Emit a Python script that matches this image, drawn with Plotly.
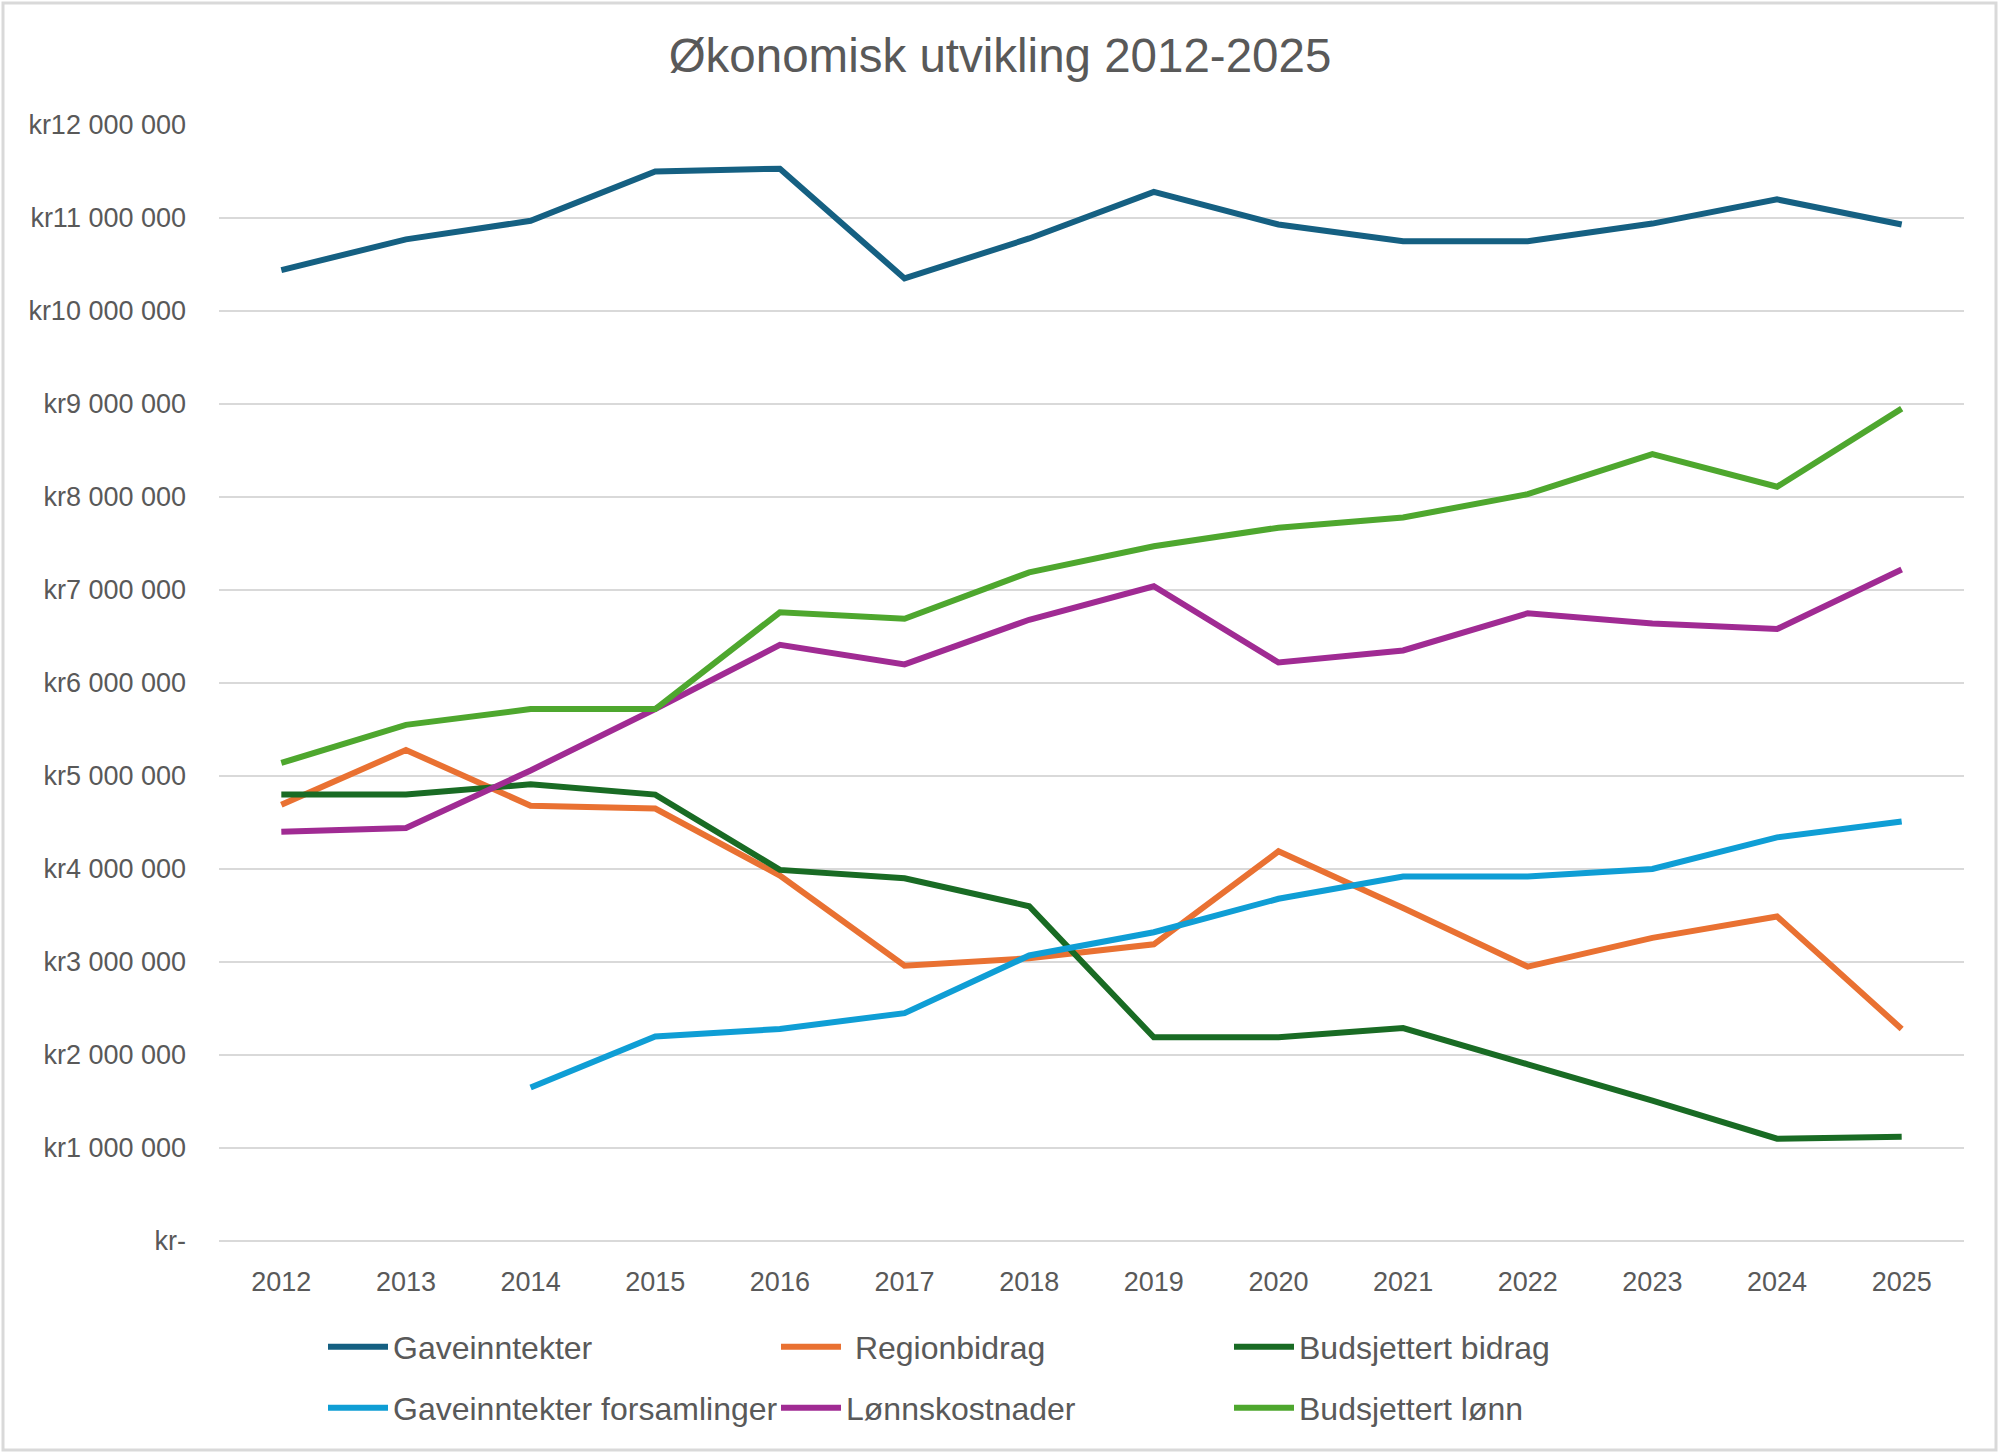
import plotly.graph_objects as go

YEARS = ["2012", "2013", "2014", "2015", "2016", "2017", "2018",
         "2019", "2020", "2021", "2022", "2023", "2024", "2025"]

GAVEINNTEKTER = [10.44e6, 10.77e6, 10.97e6, 11.50e6, 11.53e6, 10.35e6, 10.78e6,
                 11.28e6, 10.93e6, 10.75e6, 10.75e6, 10.94e6, 11.20e6, 10.93e6]
REGIONBIDRAG = [4.69e6, 5.28e6, 4.68e6, 4.65e6, 3.93e6, 2.96e6, 3.04e6,
                3.19e6, 4.19e6, 3.58e6, 2.95e6, 3.26e6, 3.49e6, 2.28e6]
BUDSJETTERT_BIDRAG = [4.80e6, 4.80e6, 4.91e6, 4.80e6, 3.99e6, 3.90e6, 3.60e6,
                      2.19e6, 2.19e6, 2.29e6, 1.90e6, 1.51e6, 1.10e6, 1.12e6]
GAVEINNTEKTER_FORSAMLINGER = [None, None, 1.65e6, 2.20e6, 2.28e6, 2.45e6, 3.07e6,
                              3.32e6, 3.68e6, 3.92e6, 3.92e6, 4.00e6, 4.34e6, 4.51e6]
LONNSKOSTNADER = [4.40e6, 4.44e6, 5.06e6, 5.72e6, 6.41e6, 6.20e6, 6.68e6,
                  7.04e6, 6.22e6, 6.35e6, 6.75e6, 6.64e6, 6.58e6, 7.22e6]
BUDSJETTERT_LONN = [5.14e6, 5.55e6, 5.72e6, 5.72e6, 6.76e6, 6.69e6, 7.19e6,
                    7.47e6, 7.67e6, 7.78e6, 8.03e6, 8.46e6, 8.11e6, 8.95e6]

Y_TICK_VALUES = [0, 1e6, 2e6, 3e6, 4e6, 5e6, 6e6, 7e6, 8e6, 9e6, 10e6, 11e6, 12e6]
Y_TICK_LABELS = ["kr-", "kr1 000 000", "kr2 000 000", "kr3 000 000", "kr4 000 000",
                 "kr5 000 000", "kr6 000 000", "kr7 000 000", "kr8 000 000",
                 "kr9 000 000", "kr10 000 000", "kr11 000 000", "kr12 000 000"]

SERIES = [
    ("Gaveinntekter", GAVEINNTEKTER, "#156082", "legend"),
    ("\u00a0Regionbidrag", REGIONBIDRAG, "#E97132", "legend"),
    ("Budsjettert bidrag", BUDSJETTERT_BIDRAG, "#196B24", "legend"),
    ("Gaveinntekter forsamlinger", GAVEINNTEKTER_FORSAMLINGER, "#0F9ED5", "legend2"),
    ("Lønnskostnader", LONNSKOSTNADER, "#A02B93", "legend2"),
    ("Budsjettert lønn", BUDSJETTERT_LONN, "#4EA72E", "legend2"),
]

FONT = "Liberation Sans, Arial, sans-serif"
TEXT = "#595959"

fig = go.Figure()
for name, vals, color, lg in SERIES:
    fig.add_trace(go.Scatter(
        x=YEARS, y=vals, name=name, mode="lines",
        line=dict(color=color, width=6),
        legend=lg, connectgaps=False,
    ))

W, H = 2000, 1454
L, R, T, B = 219, 36, 125, 213
pw = W - L - R
ph = H - T - B

legend_common = dict(
    orientation="h", xanchor="left", yanchor="middle",
    font=dict(family=FONT, size=32, color=TEXT),
    entrywidth=378, entrywidthmode="pixels",
    bgcolor="rgba(0,0,0,0)", itemwidth=60,
    traceorder="normal",
)

LEG_X = (329 - L - 6) / pw

fig.update_layout(
    width=W, height=H, autosize=False,
    margin=dict(l=L, r=R, t=T, b=B, pad=0),
    paper_bgcolor="white", plot_bgcolor="white",
    title=dict(text="Økonomisk utvikling 2012-2025", x=0.5, xanchor="center",
               y=1 - 55 / H, yanchor="middle",
               font=dict(family=FONT, size=47.5, color=TEXT)),
    font=dict(family=FONT, color=TEXT),
    legend=dict(x=LEG_X, y=(T + ph - 1347) / ph, **legend_common),
    legend2=dict(x=LEG_X, y=(T + ph - 1408) / ph, **legend_common),
    showlegend=True,
    xaxis=dict(type="category", range=[-0.5, 13.5], showgrid=False,
               showline=False, zeroline=False, ticks="",
               tickfont=dict(family=FONT, size=27, color=TEXT),
               ticklabelstandoff=22),
    yaxis=dict(range=[0, 12e6], tickvals=Y_TICK_VALUES, ticktext=Y_TICK_LABELS,
               showgrid=True, gridcolor="#D9D9D9", gridwidth=2,
               zeroline=True, zerolinecolor="#D9D9D9", zerolinewidth=2,
               showline=False, ticks="",
               tickfont=dict(family=FONT, size=27, color=TEXT),
               ticklabelstandoff=32),
    shapes=[dict(type="rect", xref="paper", yref="paper",
                 x0=(3 - L) / pw, x1=(W - 4 - L) / pw,
                 y0=(T + ph - (H - 4)) / ph, y1=(T + ph - 3) / ph,
                 line=dict(color="#D9D9D9", width=3), fillcolor="rgba(0,0,0,0)",
                 layer="below")],
)

fig.write_html(
    "out.html",
    config={"displayModeBar": False},
    post_script="document.body.style.margin='0';document.body.style.overflow='hidden';",
)
